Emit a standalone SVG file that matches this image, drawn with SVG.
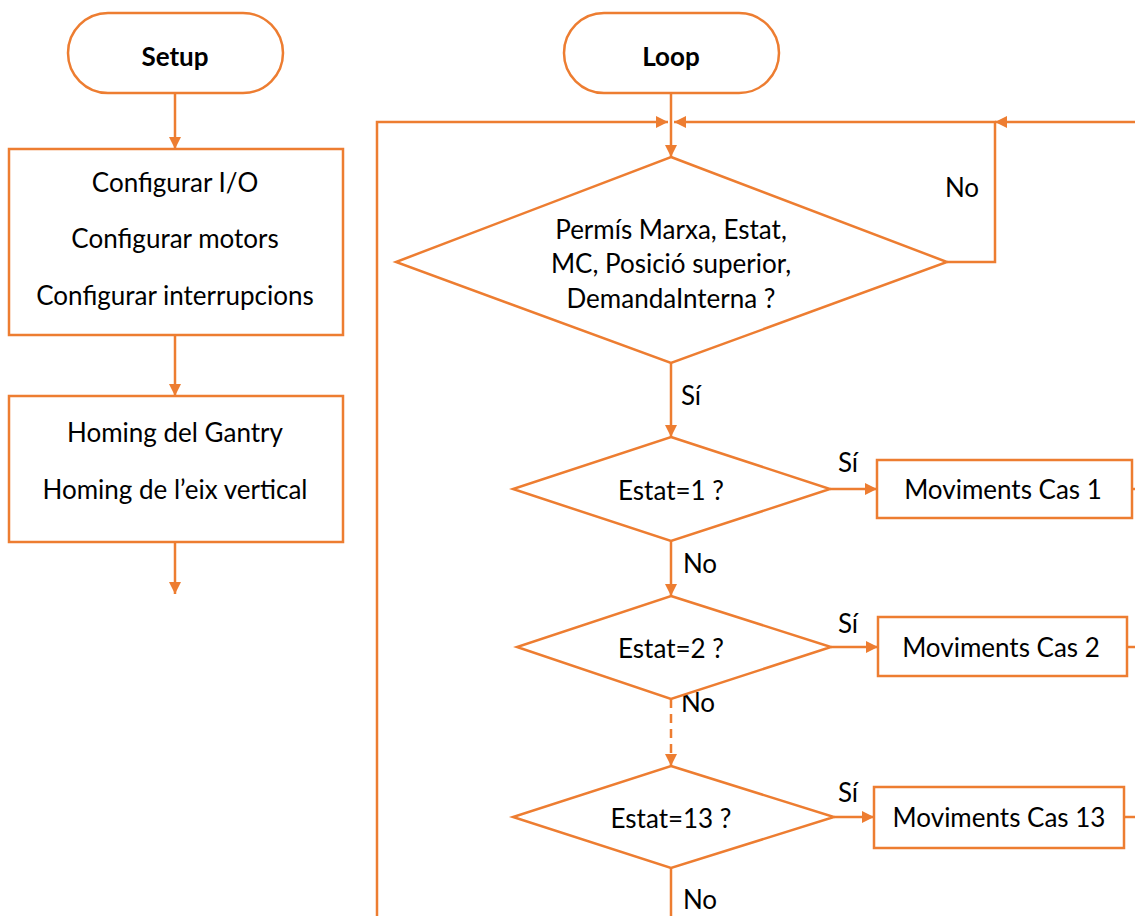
<svg xmlns="http://www.w3.org/2000/svg" width="1135" height="916" viewBox="0 0 1135 916">
  <style>
    .shape { fill: #ffffff; stroke: #ED7D31; stroke-width: 2.5; }
    .wire { fill: none; stroke: #ED7D31; stroke-width: 2.5; }
    .dash { stroke-dasharray: 9 6; }
    text { font-family: Lato, "Open Sans", sans-serif; font-size: 26px; fill: #000000; text-anchor: middle; }
    .title { font-weight: bold; }
  </style>
  <defs>
    <marker id="arrow" viewBox="0 0 12 12" refX="12" refY="6" markerWidth="12" markerHeight="12" markerUnits="userSpaceOnUse" orient="auto">
      <path d="M0,0 L12,6 L0,12 Z" fill="#ED7D31"/>
    </marker>
  </defs>
  <rect width="1135" height="916" fill="#ffffff"/>

  <!-- connectors -->
  <g id="connectors">
    <line class="wire" x1="175" y1="93" x2="175" y2="149" marker-end="url(#arrow)"/>
    <line class="wire" x1="175" y1="335" x2="175" y2="396" marker-end="url(#arrow)"/>
    <line class="wire" x1="175" y1="542" x2="175" y2="594" marker-end="url(#arrow)"/>

    <line class="wire" x1="671" y1="93" x2="671" y2="157" marker-end="url(#arrow)"/>
    <polyline class="wire" points="377,916 377,122 668,122" marker-end="url(#arrow)"/>
    <polyline class="wire" points="947,262 995,262 995,122 674,122" marker-end="url(#arrow)"/>
    <line class="wire" x1="1135" y1="122" x2="995" y2="122" marker-end="url(#arrow)"/>

    <line class="wire" x1="671" y1="363" x2="671" y2="437" marker-end="url(#arrow)"/>
    <line class="wire" x1="830" y1="489" x2="877" y2="489" marker-end="url(#arrow)"/>
    <line class="wire" x1="1132" y1="489" x2="1135" y2="489"/>
    <line class="wire" x1="671" y1="541" x2="671" y2="596" marker-end="url(#arrow)"/>

    <line class="wire" x1="831" y1="647" x2="878" y2="647" marker-end="url(#arrow)"/>
    <line class="wire" x1="1127" y1="647" x2="1135" y2="647"/>
    <line class="wire dash" x1="671" y1="699" x2="671" y2="766" marker-end="url(#arrow)"/>

    <line class="wire" x1="834" y1="817" x2="874" y2="817" marker-end="url(#arrow)"/>
    <line class="wire" x1="1124" y1="817" x2="1135" y2="817"/>
    <line class="wire" x1="671" y1="868" x2="671" y2="916"/>

    <text x="962" y="197">No</text>
    <text x="691" y="405">Sí</text>
    <text x="848" y="472">Sí</text>
    <text x="700" y="573">No</text>
    <text x="848" y="633">Sí</text>
    <text x="698" y="712">No</text>
    <text x="848" y="802">Sí</text>
    <text x="700" y="909">No</text>
  </g>

  <!-- setup column -->
  <g id="setup">
    <rect class="shape" x="68" y="13" width="215" height="80" rx="40" ry="40"/>
    <text class="title" x="175" y="66">Setup</text>
  </g>
  <g id="config">
    <rect class="shape" x="9" y="149" width="334" height="186"/>
    <text x="175" y="192">Configurar I/O</text>
    <text x="175" y="248">Configurar motors</text>
    <text x="175" y="305">Configurar interrupcions</text>
  </g>
  <g id="homing">
    <rect class="shape" x="9" y="396" width="334" height="146"/>
    <text x="175" y="442">Homing del Gantry</text>
    <text x="175" y="499">Homing de l’eix vertical</text>
  </g>

  <!-- loop column -->
  <g id="loop">
    <rect class="shape" x="564" y="13" width="215" height="80" rx="40" ry="40"/>
    <text class="title" x="671" y="66">Loop</text>
  </g>
  <g id="check">
    <polygon class="shape" points="671,157 947,262 671,363 396,262"/>
    <text x="671" y="239">Permís Marxa, Estat,</text>
    <text x="671" y="273">MC, Posició superior,</text>
    <text x="671" y="308">DemandaInterna ?</text>
  </g>
  <g id="estat1">
    <polygon class="shape" points="671,437 830,489 671,541 513,489"/>
    <text x="671" y="500">Estat=1 ?</text>
  </g>
  <g id="cas1">
    <rect class="shape" x="877" y="460" width="255" height="58"/>
    <text x="1003" y="499">Moviments Cas 1</text>
  </g>
  <g id="estat2">
    <polygon class="shape" points="671,596 831,647 671,699 517,647"/>
    <text x="671" y="658">Estat=2 ?</text>
  </g>
  <g id="cas2">
    <rect class="shape" x="878" y="617" width="249" height="59"/>
    <text x="1001" y="657">Moviments Cas 2</text>
  </g>
  <g id="estat13">
    <polygon class="shape" points="671,766 834,817 671,868 513,817"/>
    <text x="671" y="828">Estat=13 ?</text>
  </g>
  <g id="cas13">
    <rect class="shape" x="874" y="787" width="250" height="61"/>
    <text x="999" y="827">Moviments Cas 13</text>
  </g>
</svg>
